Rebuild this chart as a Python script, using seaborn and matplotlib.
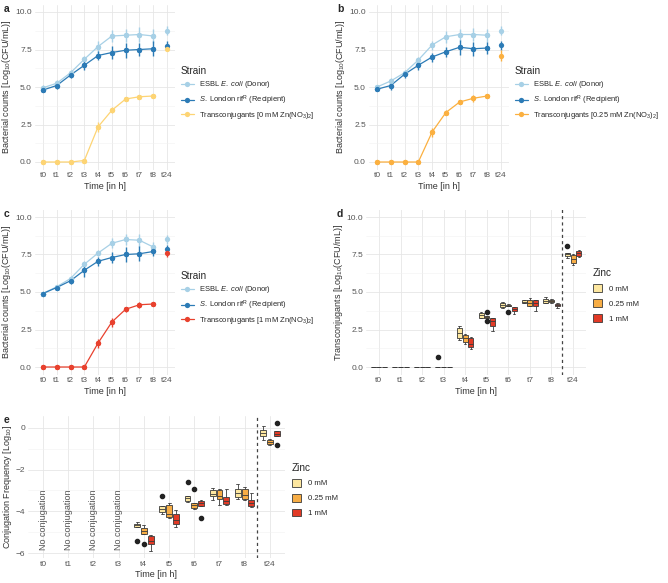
import numpy as np
import pandas as pd
import matplotlib
matplotlib.use("Agg")
from matplotlib import pyplot as plt
from matplotlib.ticker import MultipleLocator
import seaborn as sns

# time points (categorical axis)
times = ["t0", "t1", "t2", "t3", "t4", "t5", "t6", "t7", "t8", "t24"]

# panel a: 0 mM Zn(NO3)2, mean and sd
a_donor = [4.95, 5.25, 5.95, 6.85, 7.7, 8.4, 8.45, 8.5, 8.4, 8.75]
a_donor_sd = [0.15, 0.2, 0.2, 0.25, 0.4, 0.4, 0.45, 0.5, 0.45, 0.3]
a_recip = [4.8, 5.1, 5.8, 6.45, 7.1, 7.3, 7.45, 7.5, 7.55, 7.75]
a_recip_sd = [0.1, 0.25, 0.2, 0.3, 0.3, 0.45, 0.5, 0.45, 0.5, 0.3]
a_trans = [0, 0, 0, 0.1, 2.35, 3.45, 4.2, 4.35, 4.4, 7.55]
a_trans_sd = [0, 0, 0, 0.05, 0.35, 0.2, 0.1, 0.1, 0.1, 0.15]

# panel b: 0.25 mM
b_donor = [5.0, 5.4, 5.95, 6.8, 7.8, 8.35, 8.5, 8.5, 8.45, 8.75]
b_donor_sd = [0.15, 0.2, 0.2, 0.2, 0.3, 0.4, 0.4, 0.45, 0.45, 0.3]
b_recip = [4.85, 5.1, 5.85, 6.45, 7.0, 7.35, 7.65, 7.55, 7.6, 7.8]
b_recip_sd = [0.1, 0.3, 0.25, 0.3, 0.3, 0.35, 0.5, 0.45, 0.4, 0.3]
b_trans = [0, 0, 0, 0, 2.0, 3.3, 4.0, 4.25, 4.4, 7.1]
b_trans_sd = [0, 0, 0, 0, 0.3, 0.15, 0.1, 0.25, 0.1, 0.35]

# panel c: 1 mM
c_donor = [4.9, 5.35, 5.9, 6.85, 7.6, 8.25, 8.5, 8.45, 8.0, 8.5]
c_donor_sd = [0.05, 0.15, 0.2, 0.2, 0.2, 0.35, 0.35, 0.45, 0.3, 0.3]
c_recip = [4.9, 5.3, 5.75, 6.45, 7.05, 7.3, 7.5, 7.55, 7.7, 7.85]
c_recip_sd = [0.05, 0.15, 0.2, 0.45, 0.3, 0.35, 0.5, 0.5, 0.3, 0.3]
c_trans = [0, 0, 0, 0, 1.6, 3.0, 3.85, 4.15, 4.2, 7.6]
c_trans_sd = [0, 0, 0, 0, 0.3, 0.3, 0.15, 0.2, 0.05, 0.25]

# panel d: transconjugant replicates per time point
d_0mM = [[0, 0, 0, 0, 0], [0, 0, 0, 0, 0], [0, 0, 0, 0, 0], [0, 0, 0, 0, 0.66],
         [1.8, 1.92, 2.3, 2.63, 2.75], [3.25, 3.3, 3.45, 3.6, 3.65],
         [3.95, 4.0, 4.15, 4.3, 4.35], [4.25, 4.28, 4.35, 4.45, 4.5],
         [4.25, 4.3, 4.4, 4.55, 4.65], [7.3, 7.38, 7.5, 7.6, 8.05]]
d_025mM = [[0, 0, 0, 0, 0], [0, 0, 0, 0, 0], [0, 0, 0, 0, 0], [0, 0, 0, 0, 0],
           [1.55, 1.7, 1.95, 2.15, 2.2], [3.05, 3.28, 3.3, 3.35, 3.4, 3.42, 3.65],
           [3.65, 4.05, 4.1, 4.15, 4.2], [4.05, 4.1, 4.25, 4.45, 4.6],
           [4.3, 4.32, 4.4, 4.5, 4.52], [6.8, 6.95, 7.2, 7.45, 7.5]]
d_1mM = [[0, 0, 0, 0, 0], [0, 0, 0, 0, 0], [0, 0, 0, 0, 0], [0, 0, 0, 0, 0],
         [1.2, 1.35, 1.55, 1.95, 2.0], [2.43, 2.76, 3.05, 3.27, 3.3],
         [3.56, 3.76, 3.9, 3.99, 4.0], [3.72, 4.1, 4.28, 4.45, 4.47],
         [3.95, 4.05, 4.15, 4.22, 4.28], [7.35, 7.4, 7.6, 7.74, 7.8]]

# panel e: conjugation frequency replicates (none before t4)
e_0mM = [[], [], [], [],
         [-5.41, -4.76, -4.68, -4.6, -4.52], [-4.12, -4.04, -3.88, -3.76, -3.26],
         [-3.55, -3.5, -3.37, -3.26, -2.6], [-3.45, -3.26, -3.15, -3.0, -2.9],
         [-3.4, -3.33, -3.1, -2.95, -2.7], [-0.59, -0.4, -0.22, -0.08, 0.08]]
e_025mM = [[], [], [], [],
           [-5.57, -5.08, -4.92, -4.81, -4.66], [-4.3, -4.25, -4.12, -3.69, -3.62],
           [-3.9, -3.85, -3.72, -3.58, -2.93], [-3.7, -3.42, -3.25, -2.98, -2.95],
           [-3.45, -3.42, -3.2, -2.95, -2.85], [-0.8, -0.75, -0.65, -0.56, -0.53]]
e_1mM = [[], [], [], [],
         [-5.92, -5.56, -5.4, -5.18, -5.12], [-4.75, -4.6, -4.4, -4.12, -3.95],
         [-4.33, -3.74, -3.62, -3.5, -3.45], [-3.7, -3.66, -3.5, -3.33, -2.95],
         [-3.8, -3.74, -3.6, -3.45, -3.1], [-0.83, -0.4, -0.28, -0.16, 0.25]]

zinc_levels = ["0 mM", "0.25 mM", "1 mM"]
box_colors = ["#fde7a0", "#f7ad45", "#e23a26"]
donor_col = "#a7d0e6"
recip_col = "#2c7bb6"
trans_cols = ["#fdd474", "#fbb040", "#e8412e"]

sns.set_style("whitegrid")
plt.rcParams["font.family"] = ["Liberation Sans", "DejaVu Sans"]
plt.rcParams["mathtext.fontset"] = "custom"
plt.rcParams["mathtext.rm"] = "Liberation Sans"
plt.rcParams["mathtext.it"] = "Liberation Sans:italic"
plt.rcParams["mathtext.bf"] = "Liberation Sans:bold"

W, H = 668, 583
fig = plt.figure(figsize=(W / 100, H / 100), dpi=100)


def add_ax(l, t, r, b):
    return fig.add_axes([l / W, 1 - b / H, (r - l) / W, (b - t) / H])


def style_ax(ax, minor):
    for s in ax.spines.values():
        s.set_visible(False)
    ax.set_xticks(range(len(times)))
    ax.set_xticklabels(times)
    ax.set_xlim(-0.6, len(times) - 0.4)
    ax.yaxis.set_minor_locator(MultipleLocator(minor))
    ax.grid(which="major", color="#e6e6e6", lw=0.6)
    ax.grid(which="minor", axis="y", color="#f1f1f1", lw=0.4)
    ax.tick_params(which="both", length=0, labelsize=6, labelcolor="#555555", pad=2)
    ax.set_axisbelow(True)


def line_panel(ax, donor, dsd, recip, rsd, trans, tsd, tcol, conc):
    labels = [r"ESBL $\it{E.\ coli}$ (Donor)",
              r"$\it{S.}$ London rif$^{\mathrm{R}}$ (Recipient)",
              "Transconjugants [" + conc + r" mM Zn(NO$_3$)$_2$]"]
    cols = [donor_col, recip_col, tcol]
    rows = []
    for lab, vals in zip(labels, [donor, recip, trans]):
        for i, v in enumerate(vals[:9]):
            rows.append({"pos": i, "val": v, "strain": lab})
    df = pd.DataFrame(rows)
    sns.lineplot(data=df, x="pos", y="val", hue="strain", hue_order=labels,
                 palette=cols, marker="o", markersize=3.8, markeredgewidth=0,
                 lw=0.9, ax=ax)
    for vals, sds, col in zip([donor, recip, trans], [dsd, rsd, tsd], cols):
        ax.errorbar(range(len(times)), vals, yerr=sds, fmt="o", color=col,
                    ms=3.8, mew=0, elinewidth=1.0, capsize=0)
    style_ax(ax, 1.25)
    ax.set_ylim(-0.5, 10.5)
    ax.set_yticks([0, 2.5, 5, 7.5, 10])
    ax.set_yticklabels(["0.0", "2.5", "5.0", "7.5", "10.0"])
    ax.set_xlabel("Time [in h]", fontsize=6.5, color="#333333", labelpad=2)
    ax.set_ylabel(r"Bacterial counts [Log$_{10}$(CFU/mL)]", fontsize=6.5,
                  color="#333333", labelpad=1.5)
    h, l = ax.get_legend_handles_labels()
    ax.legend(h[:3], l[:3], title="Strain", loc="center left",
              bbox_to_anchor=(0.99, 0.46), frameon=False, fontsize=5.4,
              title_fontsize=7.2, handlelength=1.8, handletextpad=0.6,
              labelspacing=0.4, alignment="left")


def box_panel(ax, g0, g1, g2):
    rows = []
    for z, groups in zip(zinc_levels, [g0, g1, g2]):
        for t, reps in zip(times, groups):
            for v in reps:
                rows.append({"time": t, "val": v, "zinc": z})
    df = pd.DataFrame(rows)
    sns.boxplot(data=df, x="time", y="val", hue="zinc", order=times,
                hue_order=zinc_levels, palette=box_colors, saturation=1,
                width=0.8, gap=0.12, linewidth=0.6, linecolor="#3a3a3a",
                flierprops=dict(marker="o", markerfacecolor="#222222",
                                markeredgecolor="#222222", markersize=3),
                ax=ax)
    ax.axvline(8.5, color="#444444", lw=0.9, ls=(0, (2.5, 2.5)))
    style_ax(ax, 1)
    ax.set_xlabel("Time [in h]", fontsize=6.5, color="#333333", labelpad=2)
    h, l = ax.get_legend_handles_labels()
    ax.legend(h[:3], l[:3], title="Zinc", loc="center left",
              bbox_to_anchor=(1.0, 0.48), frameon=False, fontsize=5.6,
              title_fontsize=7.2, handlelength=1.2, handleheight=1.2,
              labelspacing=0.8, alignment="left")


ax_a = add_ax(34.7, 4.5, 175.3, 169.5)
line_panel(ax_a, a_donor, a_donor_sd, a_recip, a_recip_sd, a_trans, a_trans_sd,
           trans_cols[0], "0")
ax_b = add_ax(368.7, 4.5, 509.3, 169.5)
line_panel(ax_b, b_donor, b_donor_sd, b_recip, b_recip_sd, b_trans, b_trans_sd,
           trans_cols[1], "0.25")
ax_c = add_ax(34.7, 209.5, 175.3, 374.5)
line_panel(ax_c, c_donor, c_donor_sd, c_recip, c_recip_sd, c_trans, c_trans_sd,
           trans_cols[2], "1")

ax_d = add_ax(366, 209.5, 586, 374.5)
box_panel(ax_d, d_0mM, d_025mM, d_1mM)
ax_d.set_ylim(-0.5, 10.5)
ax_d.yaxis.set_minor_locator(MultipleLocator(1.25))
ax_d.set_yticks([0, 2.5, 5, 7.5, 10])
ax_d.set_yticklabels(["0.0", "2.5", "5.0", "7.5", "10.0"])
ax_d.set_ylabel(r"Transconjugants [Log$_{10}$(CFU/mL)]", fontsize=6.5,
                color="#333333", labelpad=1.5)

ax_e = add_ax(27.9, 416.3, 285, 557.8)
box_panel(ax_e, e_0mM, e_025mM, e_1mM)
ax_e.set_ylim(-6.23, 0.56)
ax_e.set_yticks([0, -2, -4, -6])
ax_e.set_ylabel(r"Conjugation Frequency [Log$_{10}$]", fontsize=6.5,
                color="#333333", labelpad=1.5)
for i in range(4):
    ax_e.text(i, -5.85, "No conjugation", rotation=90, ha="center", va="bottom",
              fontsize=6.5, color="#555555")

# panel letters
for lab, x, y in [("a", 4, 9), ("b", 337, 9), ("c", 4, 214), ("d", 337, 214),
                  ("e", 4, 420)]:
    fig.text(x / W, 1 - y / H, lab, fontsize=7.5, fontweight="bold", va="center")

fig.savefig("out.png", dpi=100)
